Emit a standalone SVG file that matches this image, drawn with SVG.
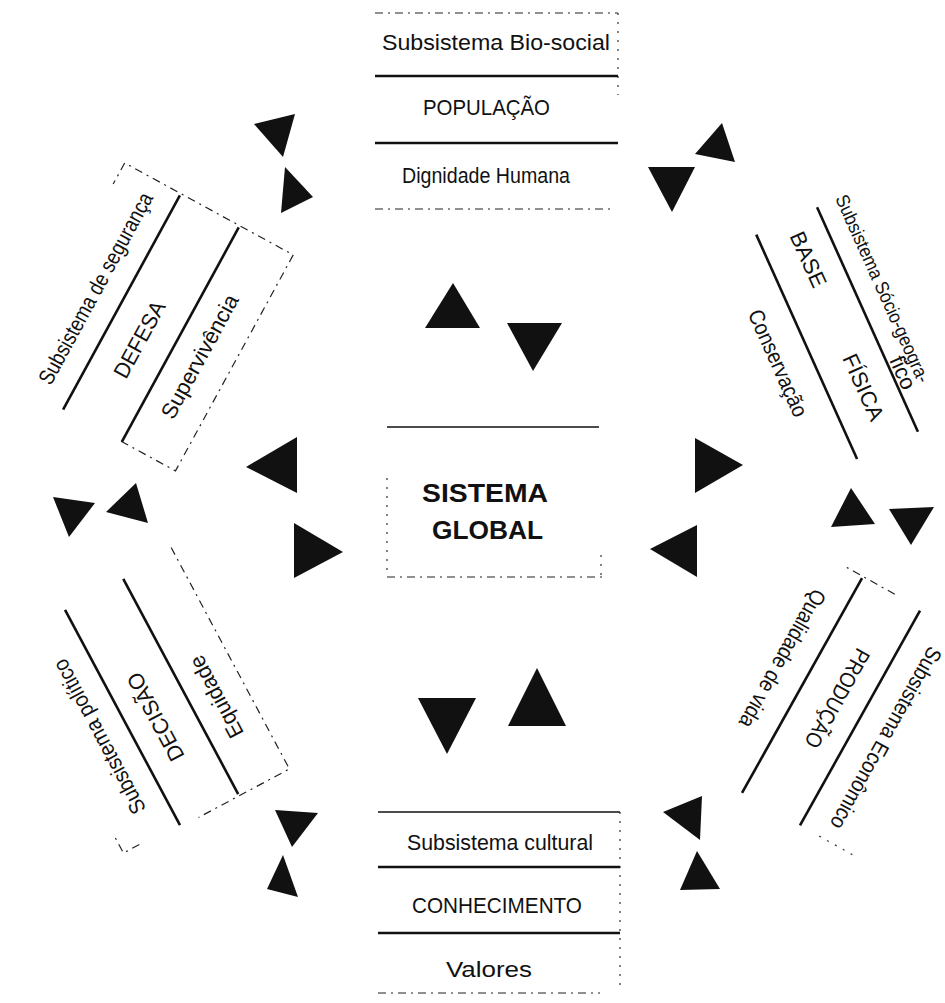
<svg xmlns="http://www.w3.org/2000/svg" width="945" height="1003" viewBox="0 0 945 1003">
<style>
.t{font-family:"Liberation Sans",Arial,sans-serif;font-size:22px;fill:#111;}
.c{text-anchor:middle;}
.big{font-size:26px;font-weight:bold;}
.ln{stroke:#111;stroke-width:2.6;fill:none;}
.thin{stroke:#111;stroke-width:1.4;fill:none;}
.dash{stroke:#222;stroke-width:1.2;fill:none;stroke-dasharray:8 5 2 5;}
.dot{stroke:#333;stroke-width:1.2;fill:none;stroke-dasharray:2 7;}
.tri{fill:#111;}
</style>
<rect width="945" height="1003" fill="#fff"/>

<g id="populacao">
<path class="dash" d="M375,13 L618,13"/>
<path class="dot" d="M618,13 L618,95"/>
<text class="t c" x="496" y="50" textLength="228" lengthAdjust="spacingAndGlyphs">Subsistema Bio-social</text>
<path class="ln" d="M375,76 L618,76"/>
<text class="t c" x="486.5" y="115" textLength="127" lengthAdjust="spacingAndGlyphs">POPULAÇÃO</text>
<path class="ln" d="M375,143 L618,143"/>
<text class="t c" x="486" y="183" textLength="168" lengthAdjust="spacingAndGlyphs">Dignidade Humana</text>
<path class="dash" d="M375,209 L612,209"/>
</g>

<g id="defesa" transform="translate(121.5,302.5) rotate(-61.4)">
<path class="dash" d="M-122,66 L-122,128 L124,128 L124,-64 L100,-64"/>
<text class="t c" x="0" y="-22" textLength="215" lengthAdjust="spacingAndGlyphs">Subsistema de segurança</text>
<path class="ln" d="M-122,0 L122,0"/>
<text class="t c" x="-24" y="41" textLength="84" lengthAdjust="spacingAndGlyphs">DEFESA</text>
<path class="ln" d="M-122,67 L122,67"/>
<text class="t c" x="-10" y="102" textLength="138" lengthAdjust="spacingAndGlyphs">Supervivência</text>
</g>

<g id="base-fisica" transform="translate(867.5,319.5) rotate(65.8)">
<text class="t c" x="-22" y="-20" style="font-size:19px" textLength="204" lengthAdjust="spacingAndGlyphs">Subsistema Sócio-geogra-</text>
<text class="t c" x="63" y="-3">fico</text>
<path class="ln" d="M-123,0 L123,0"/>
<text class="t c" x="-79" y="37">BASE</text>
<text class="t c" x="60" y="39">FÍSICA</text>
<path class="ln" d="M-123,66.7 L123,66.7"/>
<text class="t c" x="3" y="107" textLength="115" lengthAdjust="spacingAndGlyphs">Conservação</text>
</g>

<g id="sistema-global">
<path class="thin" d="M387,427 L599,427"/>
<path class="dot" d="M387,478 L387,577"/>
<path class="dash" d="M387,577 L602,577"/>
<path class="dot" d="M601,555 L601,577"/>
<text class="t c big" x="485" y="502" textLength="126" lengthAdjust="spacingAndGlyphs">SISTEMA</text>
<text class="t c big" x="487.5" y="539" textLength="111" lengthAdjust="spacingAndGlyphs">GLOBAL</text>
</g>

<g id="decisao" transform="translate(122.5,717.5) rotate(-118.1)">
<path class="dash" d="M127,123 L-124,123 L-124,20"/>
<path class="dash" d="M-120,-45 L-120,-63 L-100,-63"/>
<text class="t c" x="-6" y="-22" textLength="172" lengthAdjust="spacingAndGlyphs">Subsistema político</text>
<path class="ln" d="M-122,0 L122,0"/>
<text class="t c" x="-15" y="37" textLength="97" lengthAdjust="spacingAndGlyphs">DECISÃO</text>
<path class="ln" d="M-122,66 L122,66"/>
<text class="t c" x="-26" y="100" textLength="90" lengthAdjust="spacingAndGlyphs">Equidade</text>
</g>

<g id="producao" transform="translate(860,718) rotate(119.2)">
<path class="dash" d="M-125,30 L-125,90"/>
<path class="dot" d="M123,-60 L123,-15"/>
<text class="t c" x="5" y="-25" textLength="205" lengthAdjust="spacingAndGlyphs">Subsistema Econômico</text>
<path class="ln" d="M-123,0 L123,0"/>
<text class="t c" x="-6" y="37" textLength="110" lengthAdjust="spacingAndGlyphs">PRODUÇÃO</text>
<path class="ln" d="M-123,66.4 L123,66.4"/>
<text class="t c" x="-14" y="104" textLength="155" lengthAdjust="spacingAndGlyphs">Qualidade de vida</text>
</g>

<g id="conhecimento">
<path class="thin" d="M378,812 L620,812"/>
<path class="dot" d="M620,812 L620,990"/>
<text class="t c" x="500" y="850" textLength="186" lengthAdjust="spacingAndGlyphs">Subsistema cultural</text>
<path class="ln" d="M378,867 L620,867"/>
<text class="t c" x="497" y="913" textLength="170" lengthAdjust="spacingAndGlyphs">CONHECIMENTO</text>
<path class="ln" d="M378,933 L620,933"/>
<text class="t c" x="489" y="977" textLength="86" lengthAdjust="spacingAndGlyphs">Valores</text>
<path class="dash" d="M378,993 L600,993"/>
</g>

<g id="connectors">
<polygon class="tri" points="254,124 295,114 283,157"/>
<polygon class="tri" points="285,167 313,197 281,213"/>
<polygon class="tri" points="722,123 695,154 735,162"/>
<polygon class="tri" points="648,167 695,167 672,212"/>
<polygon class="tri" points="53,497 95,503 69,537"/>
<polygon class="tri" points="136,483 106,512 148,523"/>
<polygon class="tri" points="851,488 831,527 875,524"/>
<polygon class="tri" points="889,509 934,507 911,545"/>
<polygon class="tri" points="275,810 318,813 292,847"/>
<polygon class="tri" points="283,855 267,889 298,897"/>
<polygon class="tri" points="663,812 702,796 700,840"/>
<polygon class="tri" points="697,851 680,890 720,889"/>
<polygon class="tri" points="453,283 425,328 480,328"/>
<polygon class="tri" points="507,323 562,323 533,371"/>
<polygon class="tri" points="246,467 297,437 297,493"/>
<polygon class="tri" points="294,523 294,578 343,552"/>
<polygon class="tri" points="695,438 695,493 743,465"/>
<polygon class="tri" points="650,549 697,525 697,577"/>
<polygon class="tri" points="418,698 476,698 447,754"/>
<polygon class="tri" points="537,668 508,726 566,726"/>
</g>
</svg>
